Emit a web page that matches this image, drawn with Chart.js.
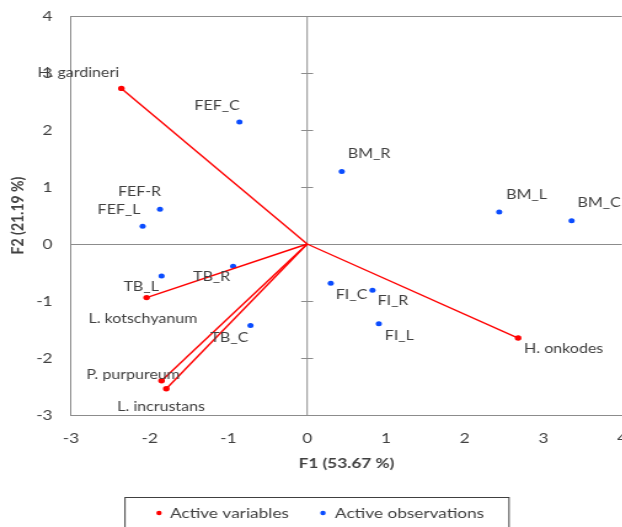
<!DOCTYPE html>
<html>
<head>
<meta charset="utf-8">
<script src="https://cdn.jsdelivr.net/npm/chart.js@4.4.1/dist/chart.umd.min.js"></script>
<style>
html,body{margin:0;padding:0;background:#fff;}
#clip{width:622px;height:527px;overflow:hidden;position:relative;}
#wrap{width:530px;height:527px;transform:scaleX(1.23);transform-origin:0 0;}
canvas{display:block;}
</style>
</head>
<body>
<div id="clip"><div id="wrap"><canvas id="c" width="530" height="527"></canvas></div></div>
<script>
// ---- data ----
const variableNames = ['H. gardineri', 'L. kotschyanum', 'P. purpureum', 'L. incrustans', 'H. onkodes'];
const variableF1 = [-2.36, -2.04, -1.85, -1.79, 2.68];
const variableF2 = [2.73, -0.94, -2.40, -2.54, -1.65];

const observationNames = ['FEF_C', 'FEF-R', 'FEF_L', 'BM_R', 'BM_L', 'BM_C', 'TB_L', 'TB_R', 'TB_C', 'FI_C', 'FI_R', 'FI_L'];
const observationF1 = [-0.86, -1.87, -2.09, 0.44, 2.44, 3.36, -1.85, -0.94, -0.72, 0.30, 0.83, 0.91];
const observationF2 = [2.14, 0.61, 0.31, 1.27, 0.56, 0.41, -0.56, -0.39, -1.43, -0.69, -0.81, -1.40];

const axisMin = -3, axisMax = 4;
const xTitle = 'F1 (53.67 %)';
const yTitle = 'F2 (21.19 %)';
const legendLabels = ['Active variables', 'Active observations'];

// ---- layout / style (page is stretched horizontally by SX) ----
const SX = 1.23;
const varLabelOffsets = [[-84,-16],[-58,21],[-75,-6],[-49,18],[6,11]];
const obsLabelOffsets = [[-45,-16],[-42,-17],[-45,-17],[6,-18],[7,-17],[6,-18],[-38,11],[-40,11],[-40,12],[5,11],[5,11],[6,12]];

const RED = '#ff0000';
const BLUE = '#0a4cff';
const AXIS = '#8c8c8c';
const TEXT = '#404040';
const FONT = "Lato, 'Open Sans', sans-serif";

const datasets = [];
variableNames.forEach((n, i) => {
  datasets.push({
    label: n,
    data: [{x:0,y:0},{x:variableF1[i], y:variableF2[i]}],
    showLine: true,
    borderColor: RED,
    borderWidth: 1.4,
    backgroundColor: RED,
    pointRadius: [0, 2.7],
    pointHoverRadius: [0, 2.7],
    pointBorderWidth: 0,
  });
});
datasets.push({
  label: 'obs',
  data: observationF1.map((x, i) => ({x, y: observationF2[i]})),
  showLine: false,
  backgroundColor: BLUE,
  borderColor: BLUE,
  pointRadius: 2.5,
  pointBorderWidth: 0,
});

const decor = {
  id: 'decor',
  beforeDatasetsDraw(chart) {
    const {ctx, chartArea: a, scales: {x, y}} = chart;
    ctx.save();
    ctx.strokeStyle = AXIS;
    ctx.lineWidth = 1;
    const x0 = x.getPixelForValue(0);
    const y0 = Math.round(y.getPixelForValue(0)) + 0.5;
    ctx.beginPath();
    ctx.moveTo(a.left, Math.round(a.top) + 0.5); ctx.lineTo(a.right, Math.round(a.top) + 0.5);
    ctx.moveTo(x0, a.top); ctx.lineTo(x0, a.bottom);
    ctx.moveTo(a.left, y0); ctx.lineTo(a.right, y0);
    for (let v = axisMin; v <= axisMax; v++) {
      const py = Math.round(y.getPixelForValue(v)) + 0.5;
      ctx.moveTo(x0 - 6 / SX, py); ctx.lineTo(x0 + 6 / SX, py);
    }
    ctx.stroke();
    ctx.restore();
  },
  afterDraw(chart) {
    const {ctx, scales: {x, y}} = chart;
    ctx.save();
    ctx.fillStyle = TEXT;
    ctx.font = '13px ' + FONT;
    ctx.textBaseline = 'middle';
    ctx.textAlign = 'left';
    variableNames.forEach((n, i) => {
      const px = x.getPixelForValue(variableF1[i]), py = y.getPixelForValue(variableF2[i]);
      ctx.fillText(n, px + varLabelOffsets[i][0] / SX, py + varLabelOffsets[i][1]);
    });
    observationNames.forEach((n, i) => {
      const px = x.getPixelForValue(observationF1[i]), py = y.getPixelForValue(observationF2[i]);
      ctx.fillText(n, px + obsLabelOffsets[i][0] / SX, py + obsLabelOffsets[i][1]);
    });
    // axis titles
    ctx.font = 'bold 14px ' + FONT;
    ctx.textAlign = 'center';
    ctx.fillText(xTitle, (chart.chartArea.left + chart.chartArea.right) / 2, 463);
    ctx.translate(18 / SX, (chart.chartArea.top + chart.chartArea.bottom) / 2);
    ctx.rotate(-Math.PI / 2);
    ctx.fillText(yTitle, 0, 0);
    ctx.restore();
    // legend
    ctx.save();
    ctx.strokeStyle = '#404040';
    ctx.lineWidth = 1;
    ctx.strokeRect(125 / SX, 497.5, (509 - 125) / SX, 40);
    ctx.font = '14px ' + FONT;
    ctx.textBaseline = 'middle';
    ctx.textAlign = 'left';
    ctx.fillStyle = RED;
    ctx.beginPath(); ctx.arc(159 / SX, 513, 2.2, 0, Math.PI * 2); ctx.fill();
    ctx.fillStyle = TEXT;
    ctx.fillText(legendLabels[0], 170 / SX, 513);
    ctx.fillStyle = BLUE;
    ctx.beginPath(); ctx.arc(323 / SX, 513, 2.2, 0, Math.PI * 2); ctx.fill();
    ctx.fillStyle = TEXT;
    ctx.fillText(legendLabels[1], 335 / SX, 513);
    ctx.restore();
  }
};

new Chart(document.getElementById('c'), {
  type: 'scatter',
  data: { datasets },
  options: {
    responsive: false,
    animation: false,
    layout: { padding: { top: 16, right: 530 - 622 / SX, bottom: 55, left: 0 } },
    plugins: { legend: { display: false }, tooltip: { enabled: false } },
    scales: {
      x: {
        type: 'linear', min: axisMin, max: axisMax,
        grid: { display: false, drawTicks: false },
        border: { display: true, color: AXIS },
        ticks: { stepSize: 1, padding: 15, color: TEXT, font: { size: 14, family: FONT } },
        afterFit(s) { s.height = 57; }
      },
      y: {
        type: 'linear', min: axisMin, max: axisMax,
        grid: { display: false, drawTicks: false },
        border: { display: true, color: AXIS },
        ticks: { stepSize: 1, padding: 15, color: TEXT, font: { size: 14, family: FONT } },
        afterFit(s) { s.width = 71 / SX; s.paddingTop = 0; s.paddingBottom = 0; }
      }
    }
  },
  plugins: [decor]
});
</script>
</body>
</html>
